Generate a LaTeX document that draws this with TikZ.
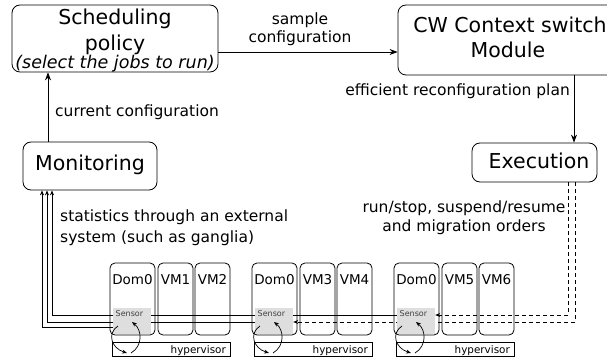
\documentclass[tikz,border=0pt]{standalone}
\usepackage{fontspec}
\setmainfont{DejaVu Sans}
\usetikzlibrary{arrows.meta,backgrounds,calc}

\begin{document}
\begin{tikzpicture}[x=1pt,y=-1pt,
  box/.style={draw, rounded corners=8pt, line width=0.8pt, inner sep=0pt},
  vmbox/.style={draw, rounded corners=5pt, line width=0.8pt, inner sep=0pt},
  hypbox/.style={draw, line width=0.8pt, inner sep=0pt},
  sensbox/.style={fill=black!13, inner sep=0pt},
  big/.style={font=\fontsize{20.5}{24}\selectfont, anchor=base, inner sep=0pt},
  ital/.style={font=\fontsize{17.5}{20}\selectfont\itshape, anchor=base, inner sep=0pt},
  lbl/.style={font=\fontsize{15.5}{18}\selectfont, anchor=base, inner sep=0pt},
  vmlbl/.style={font=\fontsize{13.5}{16}\selectfont, anchor=base, inner sep=0pt},
  hyplbl/.style={font=\fontsize{10.4}{12}\selectfont, anchor=base east, inner sep=0pt},
  senslbl/.style={font=\fontsize{8}{9}\selectfont, text=black!75, anchor=base west, inner sep=0pt},
  arr/.style={-{Stealth[length=8pt,width=6pt]}, line width=0.8pt},
  sarr/.style={-{Stealth[length=5pt,width=4pt]}, line width=0.8pt},
  darr/.style={-{Stealth[length=5pt,width=4pt]}, line width=0.8pt, dash pattern=on 4pt off 3pt},
  loop/.style={-{Stealth[length=5pt,width=4pt]}, line width=0.7pt}]

\useasboundingbox (0,0) rectangle (607,358);

% main boxes
\node[box, minimum width=206pt, minimum height=67pt] (sched) at (115,38.5) {};
\node[box, minimum width=224pt, minimum height=70pt] (cw) at (510,40) {};
\node[box, minimum width=125pt, minimum height=39pt] (exec) at (534.5,162.5) {};
\node[box, minimum width=134pt, minimum height=48pt] (mon) at (90,166) {};

% box texts
\node[big] (schedA) at (115,25) {Scheduling};
\node[big] (schedB) at (115,50.5) {policy};
\node[ital] (schedC) at (115,68.5) {(select the jobs to run)};
\node[big] (cwA) at (510,33) {CW Context switch};
\node[big] (cwB) at (508,58) {Module};
\node[big] (monT) at (90,171) {Monitoring};
\node[big] (execT) at (539,168) {Execution};

% connector labels
\node[lbl] (lsample) at (300,25) {sample};
\node[lbl] (lconf) at (300,43) {configuration};
\node[lbl, anchor=base east] (lplan) at (570,96) {efficient reconfiguration plan};
\node[lbl, anchor=base west] (lcur) at (55,117) {current configuration};
\node[lbl, anchor=base west] (lstatA) at (60,221) {statistics through an external};
\node[lbl, anchor=base west] (lstatB) at (60,242) {system (such as ganglia)};
\node[lbl] (lordA) at (464,212) {run/stop, suspend/resume};
\node[lbl] (lordB) at (464,231) {and migration orders};

% physical hosts
\foreach \i/\dx/\va/\vb in {1/0/1/2, 2/142/3/4, 3/284/5/6} {
  \begin{scope}[xshift=\dx pt]
    \node[vmbox, minimum width=45pt, minimum height=72pt] (dom\i) at (132.5,299) {};
    \node[vmbox, minimum width=35pt, minimum height=72pt] (vma\i) at (175.5,299) {};
    \node[vmbox, minimum width=35pt, minimum height=72pt] (vmb\i) at (212.5,299) {};
    \node[vmlbl] (domT\i) at (132.5,284) {Dom0};
    \node[vmlbl] (vmaT\i) at (175.5,284) {VM\va};
    \node[vmlbl] (vmbT\i) at (212.5,284) {VM\vb};
    \node[sensbox, minimum width=38pt, minimum height=26pt] (sens\i) at (132,321) {};
    \node[senslbl] (sensT\i) at (115.5,316) {Sensor};
    \node[hypbox, minimum width=118pt, minimum height=14pt] (hyp\i) at (171,349) {};
    \node[hyplbl] (hypT\i) at (226,353) {hypervisor};
    % control loop between sensor and hypervisor
    \coordinate (sA\i) at (118,326);
    \coordinate (hA\i) at (127,353);
    \coordinate (hB\i) at (131,353);
    \coordinate (sB\i) at (132,322);
    \draw[loop] (sA\i) .. controls (107,333) and (111,348) .. (hA\i);
    \draw[loop] (hB\i) .. controls (143,346) and (142,330) .. (sB\i);
  \end{scope}
}

% flow between the modules
\coordinate (ya) at (0,52);
\draw[arr] (sched.east |- ya) -- (cw.west |- ya);
\coordinate (xb) at (574,0);
\draw[arr] (cw.south -| xb) -- (exec.north -| xb);
\coordinate (xc) at (48,0);
\draw[arr] (mon.north -| xc) -- (sched.south -| xc);

% statistics and orders, behind the sensors
\begin{scope}[on background layer]
  \fill[white] (0,0) rectangle (607,358);
  \coordinate (la) at (42,327);
  \coordinate (lb) at (47,322);
  \coordinate (lc) at (52,315);
  \draw[sarr] (sens1.west |- la) -| (mon.south -| la);
  \draw[sarr] (sens2.west |- lb) -| (mon.south -| lb);
  \draw[sarr] (sens3.west |- lc) -| (mon.south -| lc);
  \coordinate (da) at (568,315);
  \coordinate (db) at (575,322);
  \draw[darr] (exec.south -| da) |- (sens3.east |- da);
  \draw[darr] (exec.south -| db) |- (sens2.east |- db);
\end{scope}
\end{tikzpicture}
\end{document}
